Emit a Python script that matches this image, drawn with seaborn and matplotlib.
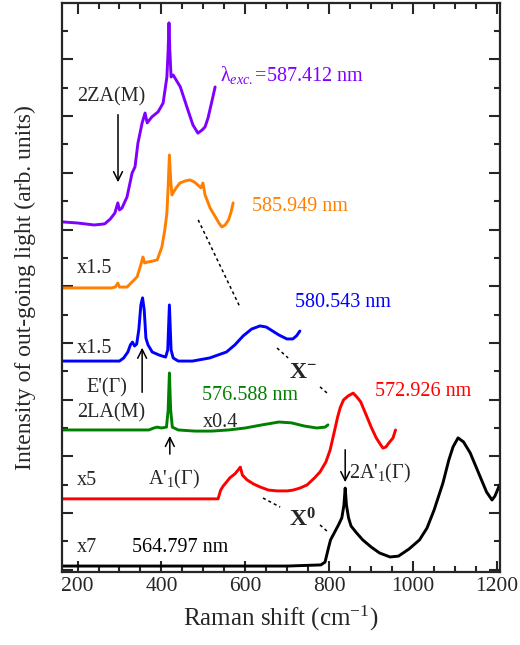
import matplotlib
matplotlib.use("Agg")
import matplotlib.pyplot as plt
import seaborn as sns
import pandas as pd
from matplotlib.ticker import MultipleLocator

# ---------------- data (Raman shift in cm^-1, intensity in arb. units, offset) -------------
black_x = [163, 700, 780, 790, 797, 803, 812, 822, 830, 835, 838, 841, 846, 852, 865, 880,
           900, 920, 945, 965, 990, 1015, 1033, 1050, 1071, 1085, 1095, 1107, 1120, 1136,
           1160, 1175, 1188, 1195, 1206]
black_y = [0.13, 0.13, 0.17, 0.27, 0.70, 1.05, 1.30, 1.58, 1.83, 2.28, 2.88, 2.28, 1.83, 1.54,
           1.30, 1.05, 0.80, 0.59, 0.45, 0.48, 0.73, 1.05, 1.47, 2.11, 3.06, 3.87, 4.33, 4.65,
           4.51, 4.12, 3.27, 2.74, 2.46, 2.60, 2.99]

red_x = [163, 535, 541, 547, 555, 563, 575, 583, 588, 593, 604, 620, 635, 655, 676, 700, 714,
         730, 747, 765, 778, 792, 802, 812, 820, 826, 834, 845, 857, 866, 875, 888, 900, 912,
         921, 928, 935, 942, 952, 958]
red_y = [2.50, 2.50, 2.80, 2.95, 3.09, 3.24, 3.38, 3.52, 3.62, 3.34, 3.17, 3.02, 2.92, 2.81,
         2.78, 2.78, 2.81, 2.88, 2.99, 3.24, 3.45, 3.80, 4.22, 4.86, 5.39, 5.71, 5.99, 6.13,
         6.23, 6.09, 5.92, 5.46, 5.03, 4.65, 4.44, 4.29, 4.33, 4.47, 4.65, 4.93]

green_x = [163, 370, 382, 390, 400, 412, 416, 419, 422, 426, 440, 480, 520, 560, 600, 640,
           680, 710, 740, 770, 790, 797]
green_y = [4.93, 4.93, 5.00, 5.03, 5.00, 5.03, 5.63, 6.94, 5.63, 5.03, 4.93, 4.89, 4.89, 4.93,
           5.00, 5.11, 5.21, 5.18, 5.07, 5.00, 5.03, 5.11]

blue_x = [163, 300, 310, 320, 326, 331, 336, 341, 346, 351, 355, 359, 363, 368, 378, 395,
          410, 415, 419, 423, 428, 440, 474, 515, 555, 575, 595, 615, 635, 650, 665, 680,
          699, 713, 722, 730]
blue_y = [7.36, 7.36, 7.47, 7.68, 7.93, 8.03, 7.89, 7.96, 8.46, 9.34, 9.59, 9.16, 8.17, 7.93,
          7.68, 7.57, 7.50, 7.75, 9.34, 7.75, 7.47, 7.36, 7.36, 7.47, 7.68, 7.93, 8.25, 8.49,
          8.60, 8.56, 8.42, 8.28, 8.14, 8.14, 8.25, 8.42]

orange_x = [163, 280, 290, 296, 300, 318, 330, 342, 350, 356, 360, 366, 380, 390, 401, 408,
            413, 416, 419, 422, 425, 435, 444, 456, 468, 478, 487, 494, 499, 504, 516, 528,
            537, 544, 552, 560, 566, 571]
orange_y = [9.94, 9.94, 9.97, 10.11, 9.97, 9.97, 10.15, 10.33, 10.71, 11.03, 10.82, 10.85,
            10.89, 10.93, 11.38, 11.98, 12.58, 13.50, 14.63, 13.75, 13.22, 13.47, 13.64,
            13.71, 13.75, 13.68, 13.57, 13.47, 13.64, 13.22, 12.76, 12.46, 12.23, 12.09,
            12.16, 12.34, 12.62, 12.94]

purple_x = [163, 200, 240, 265, 278, 289, 296, 300, 306, 318, 330, 337, 344, 354, 361, 366,
            377, 392, 404, 413, 416, 418, 420, 423, 428, 445, 463, 475, 487, 497, 504, 511,
            521, 528]
purple_y = [12.27, 12.23, 12.16, 12.20, 12.37, 12.58, 12.94, 12.69, 12.76, 13.15, 13.99,
            14.21, 15.05, 15.76, 16.11, 15.76, 15.97, 16.15, 16.46, 17.38, 18.33, 19.29,
            18.33, 17.38, 17.45, 17.03, 16.22, 15.69, 15.40, 15.51, 15.62, 15.93, 16.57, 17.03]

series = [
    ("564.797 nm", black_x, black_y, "#000000"),
    ("572.926 nm", red_x, red_y, "#ff0000"),
    ("576.588 nm", green_x, green_y, "#008000"),
    ("580.543 nm", blue_x, blue_y, "#0000ff"),
    ("585.949 nm", orange_x, orange_y, "#ff8000"),
    ("587.412 nm", purple_x, purple_y, "#8000ff"),
]

# ---------------- style -------------
sns.set_style("ticks")
plt.rcParams["font.family"] = ["Liberation Serif", "DejaVu Serif"]
plt.rcParams["mathtext.fontset"] = "custom"
plt.rcParams["mathtext.rm"] = "Liberation Serif"
plt.rcParams["mathtext.it"] = "Liberation Serif:italic"
plt.rcParams["mathtext.bf"] = "Liberation Serif:bold"

fig = plt.figure(figsize=(5.2, 6.45), dpi=100)
ax = fig.add_axes([62 / 520, 73 / 645, 438 / 520, 569 / 645])

frames = []
for name, xs, ys, col in series:
    frames.append(pd.DataFrame({"shift": xs, "intensity": ys, "laser": name}))
df = pd.concat(frames, ignore_index=True)
palette = {name: col for name, _, _, col in series}
sns.lineplot(data=df, x="shift", y="intensity", hue="laser", palette=palette,
             estimator=None, sort=False, linewidth=2.1, legend=False, ax=ax)

ax.set_xlim(163, 1207)
ax.set_ylim(-0.08, 19.99)
ax.xaxis.set_major_locator(MultipleLocator(200))
ax.xaxis.set_minor_locator(MultipleLocator(50))
ax.yaxis.set_major_locator(MultipleLocator(2))
ax.yaxis.set_minor_locator(MultipleLocator(1))
ax.tick_params(which="both", direction="in", top=True, right=True, width=1.5)
ax.tick_params(which="major", length=8, labelsize=15.5)
ax.tick_params(which="minor", length=4.5)
ax.tick_params(axis="y", which="both", labelleft=False)
for sp in ax.spines.values():
    sp.set_linewidth(1.6)

ax.set_xlabel("Raman shift (cm$^{-1}$)", fontsize=18, labelpad=6)
ax.set_ylabel("Intensity of out-going light (arb. units)", fontsize=17, labelpad=19)

fs = 14.5
# wavelength labels
ax.text(540, 17.45, "\u03bb$_{exc.}$=587.412 nm", color="#8000ff", fontsize=fs, va="center")
ax.text(616, 12.80, "585.949 nm", color="#ff8000", fontsize=fs, va="center")
ax.text(718, 9.44, "580.543 nm", color="#0000ff", fontsize=fs, va="center")
ax.text(497, 6.13, "576.588 nm", color="#008000", fontsize=fs, va="center")
ax.text(909, 6.27, "572.926 nm", color="#ff0000", fontsize=fs, va="center")
ax.text(330, 0.77, "564.797 nm", color="black", fontsize=fs, va="center")

# scale factors
ax.text(199, 10.64, "x1.5", fontsize=fs, va="center")
ax.text(199, 7.79, "x1.5", fontsize=fs, va="center")
ax.text(499, 5.21, "x0.4", fontsize=fs, va="center")
ax.text(199, 3.13, "x5", fontsize=fs, va="center")
ax.text(199, 0.77, "x7", fontsize=fs, va="center")

# mode labels and arrows
arrow = dict(arrowstyle="->", color="black", lw=1.1, mutation_scale=16)
ax.text(199, 16.68, "2ZA(M)", fontsize=fs, va="center")
ax.annotate("", xy=(296.5, 13.57), xytext=(296.5, 16.15), arrowprops=arrow)
ax.text(222, 6.41, "E'(\u0393)", fontsize=fs, va="center")
ax.text(199, 5.53, "2LA(M)", fontsize=fs, va="center")
ax.annotate("", xy=(354, 7.93), xytext=(354, 6.16), arrowprops=arrow)
ax.text(368, 3.17, r"A$'_{1}$(" + "\u0393)", fontsize=fs, va="center")
ax.annotate("", xy=(420, 4.82), xytext=(420, 3.98), arrowprops=arrow)
ax.text(847, 3.41, r"2A$'_{1}$(" + "\u0393)", fontsize=fs, va="center")
ax.annotate("", xy=(838, 2.99), xytext=(838, 4.33), arrowprops=arrow)

# exciton guide lines
dot = dict(color="black", lw=1.1, ls=(0, (2, 2)))
ax.plot([487.6, 587], [12.34, 9.27], **dot)
ax.plot([675.6, 702], [7.82, 7.47], **dot)
ax.plot([778, 795], [6.45, 6.23], **dot)
ax.text(737, 6.94, r"X$^{\mathbf{-}}$", fontsize=17, fontweight="bold", ha="center", va="center")
ax.plot([642, 683], [2.53, 2.21], **dot)
ax.plot([778, 797], [1.58, 1.33], **dot)
ax.text(735, 1.75, r"X$^{\mathbf{0}}$", fontsize=17, fontweight="bold", ha="center", va="center")

fig.savefig("out.png", dpi=100)
